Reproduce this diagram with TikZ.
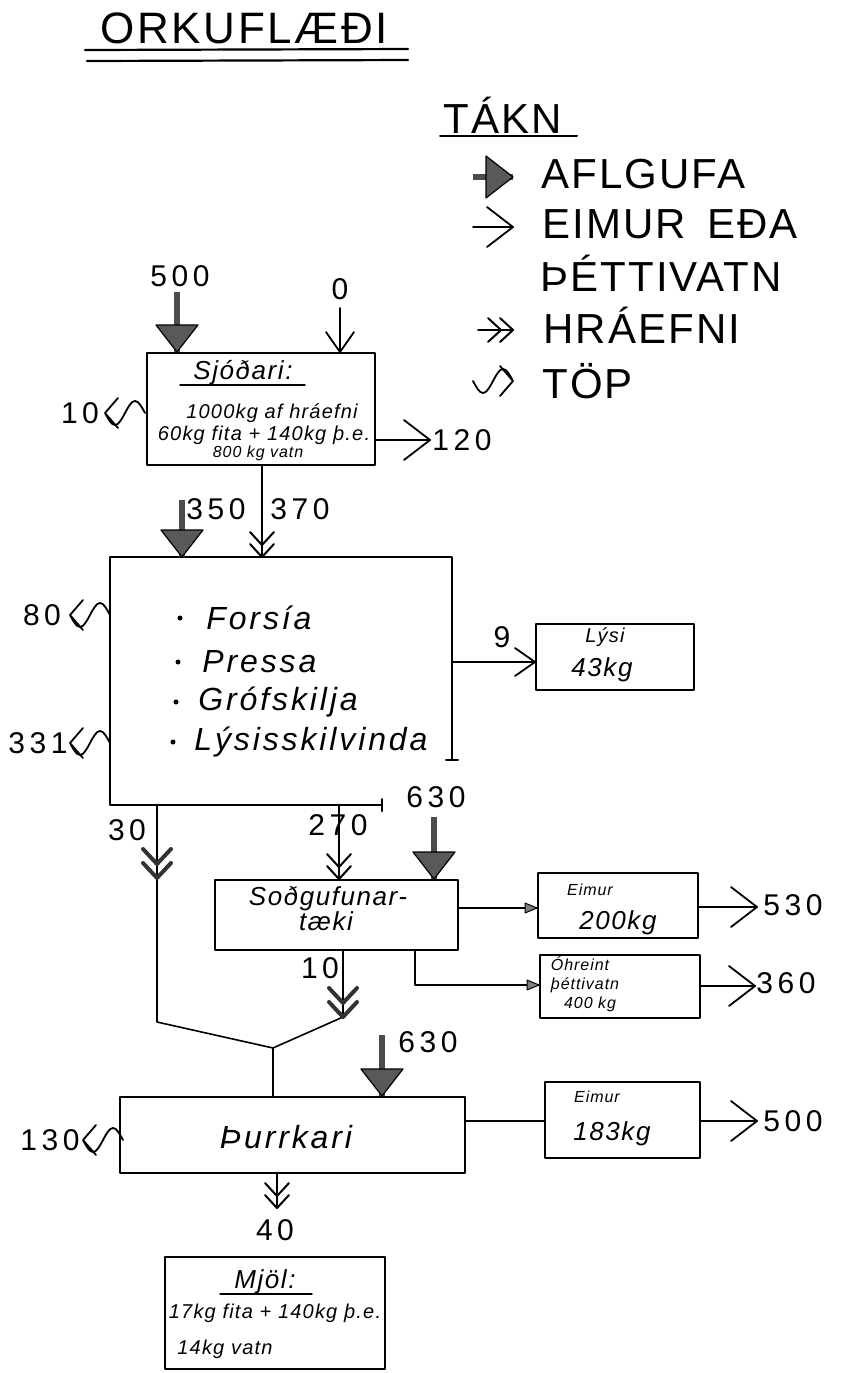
\documentclass[tikz,border=0pt]{standalone}
\usepackage{fontspec}
\setmainfont{Liberation Sans}
\newfontfamily\legfont[LetterSpace=5]{Liberation Sans}
\newfontfamily\titlefont[LetterSpace=6]{Liberation Sans}
\newfontfamily\numfont[LetterSpace=15]{Liberation Sans}
\newfontfamily\handfont[LetterSpace=6]{Liberation Sans}
\newfontfamily\handwide[LetterSpace=9]{Liberation Sans}
\usetikzlibrary{fit}
\tikzset{
  box/.style={draw, line width=1pt, inner sep=0pt},
  num/.style={font=\numfont\fontsize{15}{15}\selectfont, inner sep=0pt},
  leg/.style={font=\legfont\fontsize{21}{21}\selectfont, anchor=base west, inner sep=0pt},
  hxs/.style={font=\handfont\itshape\fontsize{8}{8}\selectfont, inner sep=0pt},
  hs/.style={font=\handfont\itshape\fontsize{10}{10}\selectfont, inner sep=0pt},
  hm/.style={font=\handfont\itshape\fontsize{13}{13}\selectfont, inner sep=0pt},
  hl/.style={font=\handwide\itshape\fontsize{16}{16}\selectfont, inner sep=0pt},
  conn/.style={line width=0.8pt},
  shaft/.style={line width=3pt, draw=black!70, line cap=butt},
  pics/steam/.style={code={\filldraw[fill=black!65, draw=black, line width=0.6pt] (0,0) -- (-27,-21) -- (-27,21) -- cycle;}},
  pics/vap/.style={code={\draw[line width=0.9pt] (-26,-20) -- (0,0) -- (-26,20);}},
  pics/vapsm/.style={code={\draw[line width=0.9pt] (-20,-14) -- (0,0) -- (-20,14);}},
  pics/raw/.style={code={\draw[line width=1pt] (-13,-12) -- (0,0) -- (-13,12) (-25,-12) -- (-12,0) -- (-25,12);}},
  pics/rawbig/.style={code={\draw[line width=2pt, draw=black!80] (-15,-14) -- (0,0) -- (-15,14) (-29,-14) -- (-14,0) -- (-29,14);}},
  pics/loss/.style={code={\draw[line width=0.9pt] (-13,-15) -- (0,0) -- (-13,15) (0,0) sin (-10,-12) cos (-20,0) sin (-30,12) cos (-40,0);}},
  pics/small/.style={code={\filldraw[fill=black!50, line width=0.5pt] (0,0) -- (-12,-5) -- (-12,5) -- cycle;}},
}
\begin{document}
\begin{tikzpicture}[x=0.5pt,y=-0.5pt,line cap=round,line join=round]
\useasboundingbox (0,0) rectangle (842,1373);

% ---------- title ----------
\node[font=\titlefont\fontsize{22}{22}\selectfont, anchor=base west, inner sep=0pt] (title) at (100,43) {ORKUFLÆÐI};
\draw[line width=1.1pt] (85,50) -- (408,49);
\draw[line width=1.1pt] (87,61) -- (408,60);

% ---------- legend ----------
\node[leg] (takn) at (443,133) {TÁKN};
\draw[line width=1pt] (440,136) -- (577,136);
\node[leg] (l1) at (541,188) {AFLGUFA};
\node[leg] (l2) at (542,238) {EIMUR\hspace{0.5em}EÐA};
\node[leg] (l3) at (540,291) {ÞÉTTIVATN};
\node[leg] (l4) at (543,343) {HRÁEFNI};
\node[leg] (l5) at (542,398) {TÖP};
\coordinate (a1s) at (473,177); \coordinate (a1t) at (513,177);
\coordinate (a2s) at (473,227); \coordinate (a2t) at (513,227);
\coordinate (a4s) at (478,330); \coordinate (a4t) at (513,330);
\coordinate (a5t) at (513,381);
\draw[shaft] (a1s) -- (a1t); \pic at (a1t) {steam};
\draw[conn] (a2s) -- (a2t); \pic at (a2t) {vap};
\draw[conn] (a4s) -- (a4t); \pic at (a4t) {raw};
\pic at (a5t) {loss};

% ---------- Sjodari ----------
\node[box, fit={(147,353) (375,465)}] (s1) {};
\node[hm, anchor=base] (s1a) at (243,379) {Sjóðari:};
\draw[line width=0.7pt] (180,385) -- (305,385);
\node[hs, anchor=base] (s1b) at (272,418) {1000kg af hráefni};
\node[hs, anchor=base] (s1c) at (264,440) {60kg fita + 140kg þ.e.};
\node[hxs, anchor=base] (s1d) at (258,457) {800 kg vatn};

\node[num] (n500) at (180,276) {500};
\coordinate (c500) at (177,292);
\draw[shaft] (c500) -- (c500 |- s1.north); \pic[rotate=-90] at (c500 |- s1.north) {steam};
\node[num] (n0) at (340,289) {0};
\coordinate (c0) at (340,308);
\draw[conn] (c0) -- (c0 |- s1.north); \pic[rotate=-90] at (c0 |- s1.north) {vapsm};
\node[num] (n10a) at (80,413) {10};
\coordinate (c10a) at (105,413);
\pic[rotate=180] at (c10a) {loss};
\node[num] (n120) at (462,440) {120};
\coordinate (c120) at (430,440);
\draw[conn] (c120 -| s1.east) -- (c120); \pic at (c120) {vap};

% ---------- big box ----------
\coordinate (bnw) at (110,557);
\coordinate (bne) at (452,557);
\coordinate (bsw) at (110,805);
\coordinate (bse) at (382,805);
\draw[line width=1pt] (452,760) -- (bne) -- (bnw) -- (bsw) -- (bse);
\draw[line width=1pt] (446,760) -- (458,760);
\draw[line width=1pt] (382,799) -- (382,811);
\coordinate (c370) at (262,557);
\draw[conn] (s1.south -| c370) -- (c370); \pic[rotate=-90] at (c370) {raw};
\node[num] (n370) at (300,509) {370};
\coordinate (c350s) at (182,500); \coordinate (c350) at (182,557);
\draw[shaft] (c350s) -- (c350); \pic[rotate=-90] at (c350) {steam};
\node[num] (n350) at (216,509) {350};

\fill (180,618) circle (2.5); \node[hl, anchor=west] (b1) at (206,618) {Forsía};
\fill (178,662) circle (2.5); \node[hl, anchor=west] (b2) at (202,662) {Pressa};
\fill (176,702) circle (2.5); \node[hl, anchor=west] (b3) at (198,702) {Grófskilja};
\fill (173,742) circle (2.5); \node[hl, anchor=west] (b4) at (194,742) {Lýsisskilvinda};

\node[num] (n80) at (42,615) {80};
\pic[rotate=180] at (70,615) {loss};
\node[num] (n331) at (38,743) {331};
\pic[rotate=180] at (70,743) {loss};

% ---------- Lysi ----------
\node[box, fit={(536,624) (694,690)}] (lysi) {};
\node[hs, anchor=base] (ly1) at (605,642) {Lýsi};
\node[hm, anchor=base] (ly2) at (602,676) {43kg};
\coordinate (c9) at (452,662);
\draw[conn] (c9) -- (c9 -| lysi.west); \pic at (c9 -| lysi.west) {vapsm};
\node[num] (n9) at (502,637) {9};

% ---------- Sodgufunartaeki ----------
\node[box, fit={(215,880) (458,950)}] (sod) {};
\node[hm, anchor=base] (sd1) at (328,905) {Soðgufunar-};
\node[hm, anchor=base] (sd2) at (326,930) {tæki};
\coordinate (c30) at (157,805);
\coordinate (c30t) at (157,878);
\coordinate (cl) at (157,1022);
\coordinate (jn) at (273,1048);
\coordinate (c10b) at (343,1017);
\draw[conn] (c30) -- (cl) -- (jn);
\pic[rotate=-90] at (c30t) {rawbig};
\node[num] (n30) at (127,830) {30};
\coordinate (c270) at (339,805);
\draw[conn] (c270) -- (c270 |- sod.north); \pic[rotate=-90] at (c270 |- sod.north) {raw};
\node[num] (n270) at (338,825) {270};
\coordinate (c630a) at (434,817);
\draw[shaft] (c630a) -- (c630a |- sod.north); \pic[rotate=-90] at (c630a |- sod.north) {steam};
\node[num] (n630a) at (436,797) {630};

\draw[conn] (sod.south -| c10b) -- (c10b) -- (jn);
\pic[rotate=-90] at (c10b) {rawbig};
\node[num] (n10b) at (320,968) {10};

% ---------- Eimur 200 ----------
\node[box, fit={(538,873) (698,938)}] (e1) {};
\node[hxs, anchor=base] (e1a) at (590,895) {Eimur};
\node[hm, anchor=base] (e1b) at (618,929) {200kg};
\coordinate (ce1) at (458,908);
\draw[conn] (ce1) -- (ce1 -| e1.west); \pic at (ce1 -| e1.west) {small};
\coordinate (c530) at (757,907);
\draw[conn] (c530 -| e1.east) -- (c530); \pic at (c530) {vap};
\node[num] (n530) at (793,905) {530};

% ---------- Ohreint ----------
\node[box, fit={(540,955) (700,1018)}] (oh) {};
\node[hxs, anchor=base] (oh1) at (580,970) {\'Ohreint};
\node[hxs, anchor=base] (oh2) at (585,989) {þéttivatn};
\node[hxs, anchor=base] (oh3) at (590,1008) {400 kg};
\coordinate (co) at (415,985);
\draw[conn] (sod.south -| co) -- (co) -- (co -| oh.west); \pic at (co -| oh.west) {small};
\coordinate (c360) at (755,986);
\draw[conn] (c360 -| oh.east) -- (c360); \pic at (c360) {vap};
\node[num] (n360) at (786,983) {360};

% ---------- Thurrkari ----------
\node[box, fit={(120,1097) (465,1173)}] (th) {};
\node[hl, anchor=base] (th1) at (286,1148) {Þurrkari};
\draw[conn] (jn) -- (jn |- th.north);
\coordinate (c630b) at (382,1035);
\draw[shaft] (c630b) -- (c630b |- th.north); \pic[rotate=-90] at (c630b |- th.north) {steam};
\node[num] (n630b) at (428,1042) {630};
\node[num] (n130) at (50,1140) {130};
\pic[rotate=180] at (83,1140) {loss};

% ---------- Eimur 183 ----------
\node[box, fit={(545,1082) (700,1158)}] (e2) {};
\node[hxs, anchor=base] (e2a) at (597,1102) {Eimur};
\node[hm, anchor=base] (e2b) at (612,1140) {183kg};
\coordinate (ce2) at (465,1121);
\draw[conn] (ce2) -- (ce2 -| e2.west);
\coordinate (c500b) at (757,1121);
\draw[conn] (c500b -| e2.east) -- (c500b); \pic at (c500b) {vap};
\node[num] (n500b) at (793,1121) {500};

% ---------- Mjol ----------
\coordinate (c40) at (277,1208);
\draw[conn] (th.south -| c40) -- (c40); \pic[rotate=-90] at (c40) {raw};
\node[num] (n40) at (275,1230) {40};
\node[box, fit={(165,1257) (385,1369)}] (mj) {};
\node[hm, anchor=base] (mj1) at (265,1288) {Mjöl:};
\draw[line width=0.7pt] (220,1294) -- (312,1294);
\node[hs, anchor=base] (mj2) at (275,1318) {17kg fita + 140kg þ.e.};
\node[hs, anchor=base west] (mj3) at (177,1354) {14kg vatn};
\end{tikzpicture}
\end{document}
